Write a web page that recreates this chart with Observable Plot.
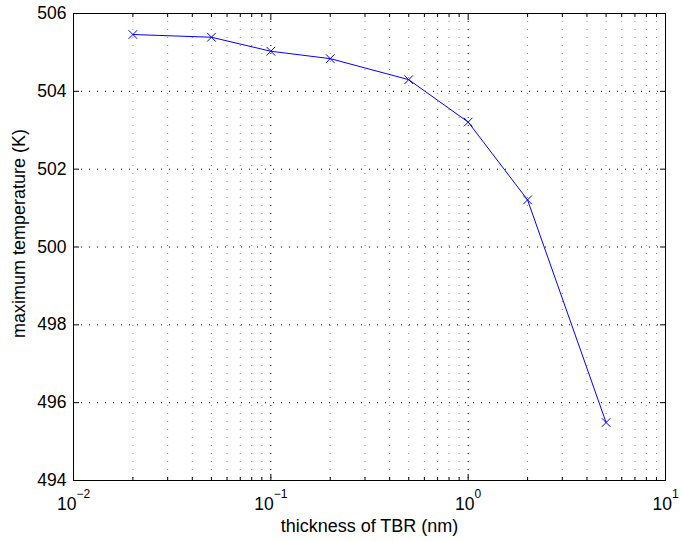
<!DOCTYPE html>
<html><head><meta charset="utf-8">
<script src="https://cdn.jsdelivr.net/npm/d3@7"></script>
<script src="https://cdn.jsdelivr.net/npm/@observablehq/plot@0.6"></script>
<style>body{margin:0;background:#fff}</style>
</head><body><div id="chart"></div>
<script>
const thickness = [0.02, 0.05, 0.1, 0.2, 0.5, 1, 2, 5];
const maxTemp = [505.46, 505.39, 505.03, 504.84, 504.30, 503.21, 501.21, 495.49];
const xMajorTicks = [0.01, 0.1, 1, 10];
const xExponents = ["−2", "−1", "0", "1"];
const xMinorTicks = [0.02, 0.03, 0.04, 0.05, 0.06, 0.07, 0.08, 0.09,
                     0.2, 0.3, 0.4, 0.5, 0.6, 0.7, 0.8, 0.9,
                     2, 3, 4, 5, 6, 7, 8, 9];
const yTicks = [494, 496, 498, 500, 502, 504, 506];
const xLabel = "thickness of TBR (nm)";
const yLabel = "maximum temperature (K)";

const data = thickness.map((t, i) => ({t, temp: maxTemp[i]}));
const font = "'Liberation Sans', Arial, Helvetica, sans-serif";
const dotted = "1,7";

const chart = Plot.plot({
  width: 681, height: 541,
  marginLeft: 73, marginRight: 16, marginTop: 13, marginBottom: 61,
  x: {type: "log", domain: [0.01, 10]},
  y: {domain: [494, 506]},
  style: {fontFamily: font, fontSize: "17.5px", background: "#fff", color: "#000", overflow: "visible"},
  marks: [
    Plot.gridX(xMinorTicks, {stroke: "#8a8a8a", strokeOpacity: 1, strokeDasharray: dotted}),
    Plot.gridX(xMajorTicks, {stroke: "#000", strokeOpacity: 1, strokeDasharray: dotted}),
    Plot.gridY(yTicks, {stroke: "#000", strokeOpacity: 1, strokeDasharray: dotted}),
    Plot.axisX({anchor: "bottom", ticks: xMajorTicks, tickSize: -6, tickFormat: () => "", label: null}),
    Plot.axisX({anchor: "top", ticks: xMajorTicks, tickSize: -6, tickFormat: () => "", label: null}),
    Plot.axisX({anchor: "bottom", ticks: xMinorTicks, tickSize: -3, tickFormat: () => "", label: null}),
    Plot.axisX({anchor: "top", ticks: xMinorTicks, tickSize: -3, tickFormat: () => "", label: null}),
    Plot.axisY({anchor: "left", ticks: yTicks, tickSize: -6, tickFormat: () => "", label: null}),
    Plot.axisY({anchor: "right", ticks: yTicks, tickSize: -6, tickFormat: () => "", label: null}),
    Plot.frame({stroke: "#000", strokeWidth: 1}),
    Plot.line(data, {x: "t", y: "temp", stroke: "#0000ff", strokeWidth: 1}),
    Plot.dot(data, {x: "t", y: "temp", symbol: "times", r: 4, stroke: "#0000ff", strokeWidth: 1}),
    Plot.text(yTicks, {x: 0.01, y: d => d, text: d => String(d), textAnchor: "end", lineAnchor: "middle", dx: -7, fontSize: 17.5, fill: "#000"}),
    Plot.text(xMajorTicks, {x: d => d, frameAnchor: "bottom", text: (d, i) => "10^" + xExponents[i], textAnchor: "middle", lineAnchor: "bottom", dy: 29, fontSize: 17.5, fill: "#000"}),
    Plot.text([xLabel], {frameAnchor: "bottom", text: d => d, textAnchor: "middle", lineAnchor: "bottom", dy: 51, fontSize: 18, fill: "#000"}),
    Plot.text([yLabel], {frameAnchor: "left", text: d => d, rotate: -90, textAnchor: "middle", lineAnchor: "bottom", dx: -49, dy: -13.5, fontSize: 18, fill: "#000"})
  ]
});

// render exponents as superscripts
d3.select(chart).selectAll("text").each(function() {
  const m = /^10\^(.+)$/.exec(this.textContent);
  if (!m) return;
  const el = d3.select(this);
  el.text("");
  el.append("tspan").text("10");
  el.append("tspan").attr("dy", -12).attr("font-size", 12).text(m[1]);
});

document.getElementById("chart").appendChild(chart);
</script>
</body></html>
